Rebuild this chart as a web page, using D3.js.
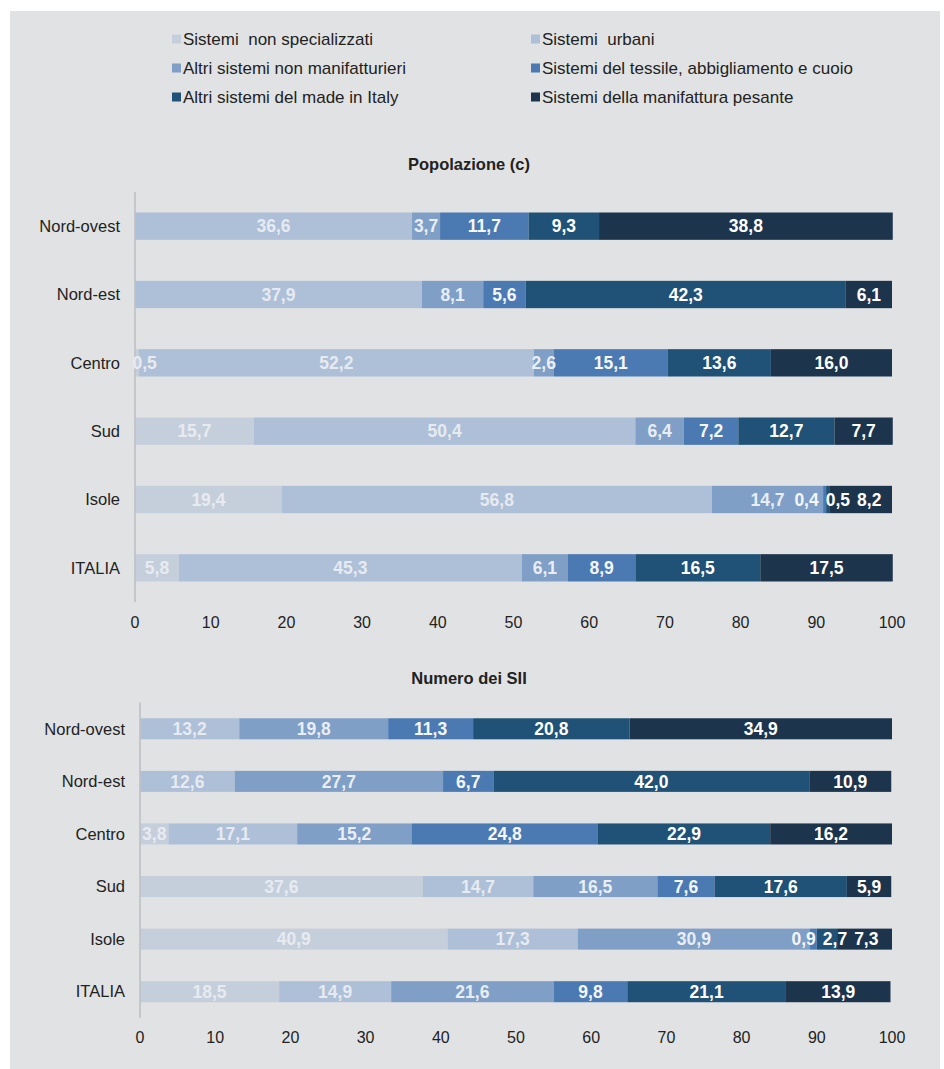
<!DOCTYPE html>
<html>
<head>
<meta charset="utf-8">
<script src="https://cdn.jsdelivr.net/npm/d3@7"></script>
<style>
  body { margin: 0; background: #fff; }
  svg { display: block; font-family: 'Liberation Sans', Arial, sans-serif; }
</style>
</head>
<body>
<svg id="chart" width="944" height="1069"></svg>
<script>
const categories = ['Nord-ovest', 'Nord-est', 'Centro', 'Sud', 'Isole', 'ITALIA'];
const seriesNames = [
  'Sistemi  non specializzati',
  'Sistemi  urbani',
  'Altri sistemi non manifatturieri',
  'Sistemi del tessile, abbigliamento e cuoio',
  'Altri sistemi del made in Italy',
  'Sistemi della manifattura pesante'
];
const colors = ['#c5cfdb', '#aec0d7', '#7f9fc6', '#4b7ab3', '#1f5276', '#1d344d'];
const labelColors = ['#e7ebf1', '#e6eaf1', '#e9eef5', '#f4f6fa', '#ffffff', '#ffffff'];
const ticks = [0, 10, 20, 30, 40, 50, 60, 70, 80, 90, 100];

// Popolazione (c)
const popNonSpecializzati = [0, 0, 0.5, 15.7, 19.4, 5.8];
const popUrbani = [36.6, 37.9, 52.2, 50.4, 56.8, 45.3];
const popAltriNonManif = [3.7, 8.1, 2.6, 6.4, 14.7, 6.1];
const popTessile = [11.7, 5.6, 15.1, 7.2, 0.4, 8.9];
const popMadeInItaly = [9.3, 42.3, 13.6, 12.7, 0.5, 16.5];
const popPesante = [38.8, 6.1, 16.0, 7.7, 8.2, 17.5];

// Numero dei SII
const siiNonSpecializzati = [0, 0, 3.8, 37.6, 40.9, 18.5];
const siiUrbani = [13.2, 12.6, 17.1, 14.7, 17.3, 14.9];
const siiAltriNonManif = [19.8, 27.7, 15.2, 16.5, 30.9, 21.6];
const siiTessile = [11.3, 6.7, 24.8, 7.6, 0.9, 9.8];
const siiMadeInItaly = [20.8, 42.0, 22.9, 17.6, 2.7, 21.1];
const siiPesante = [34.9, 10.9, 16.2, 5.9, 7.3, 13.9];

const svg = d3.select('#chart');
const fmt = v => d3.format('.1f')(v).replace('.', ',');

svg.append('rect')
  .attr('x', 10).attr('y', 11)
  .attr('width', 930).attr('height', 1058)
  .style('fill', '#e1e2e4');

// legend
const legend = svg.append('g');
seriesNames.forEach((name, i) => {
  let lx = i % 2 == 0 ? 172 : 531;
  let ly = 39 + Math.floor(i / 2) * 29;
  legend.append('rect')
    .attr('x', lx).attr('y', ly - 4.5)
    .attr('width', 9).attr('height', 9)
    .style('fill', colors[i]);
  legend.append('text')
    .attr('x', lx + 11).attr('y', ly)
    .attr('dy', '0.35em')
    .style('font-size', '17px')
    .style('fill', '#222')
    .style('white-space', 'pre')
    .text(name);
});

function buildTable(cols) {
  return categories.map((c, i) => {
    let row = {cat: c};
    cols.forEach((col, j) => row[j] = col[i]);
    return row;
  });
}

function drawChart(title, cols, opt) {
  const table = buildTable(cols);
  const stack = d3.stack().keys(d3.range(seriesNames.length))(table);

  const x = d3.scaleLinear().domain([0, 100]).range([opt.x0, 892]);
  const y = d3.scaleBand().domain(categories)
    .range([opt.yTop, opt.yBottom])
    .paddingInner(0.6).paddingOuter(0.3);

  const g = svg.append('g');

  g.append('text')
    .attr('x', 469).attr('y', opt.titleY)
    .attr('dy', '0.35em')
    .attr('text-anchor', 'middle')
    .style('font-size', '16.5px')
    .style('font-weight', 'bold')
    .style('fill', '#222')
    .text(title);

  stack.forEach((layer, k) => {
    g.append('g').selectAll('rect')
      .data(layer)
      .join('rect')
      .attr('x', d => x(d[0]))
      .attr('y', d => y(d.data.cat))
      .attr('width', d => Math.max(0, x(d[1]) - x(d[0])))
      .attr('height', y.bandwidth())
      .style('fill', colors[k]);
  });

  // axis line
  g.append('line')
    .attr('x1', opt.x0).attr('x2', opt.x0)
    .attr('y1', opt.yTop).attr('y2', opt.yBottom)
    .style('stroke', '#bfc0c3')
    .style('stroke-width', 1.6);

  // category labels
  g.selectAll('.cat')
    .data(categories)
    .join('text')
    .attr('class', 'cat')
    .attr('x', opt.catX)
    .attr('y', d => y(d) + y.bandwidth() / 2)
    .attr('dy', '0.35em')
    .attr('text-anchor', 'end')
    .style('font-size', '16.5px')
    .style('fill', '#222')
    .text(d => d);

  // tick labels
  g.selectAll('.tick')
    .data(ticks)
    .join('text')
    .attr('class', 'tick')
    .attr('x', d => x(d))
    .attr('y', opt.tickY)
    .attr('dy', '0.35em')
    .attr('text-anchor', 'middle')
    .style('font-size', '16px')
    .style('fill', '#222')
    .text(d => d);

  // value labels, pushed apart where they collide
  categories.forEach((cat, i) => {
    let labels = [];
    stack.forEach((layer, k) => {
      let d = layer[i];
      let v = cols[k][i];
      if (!v) return;
      let t = g.append('text')
        .attr('y', y(cat) + y.bandwidth() / 2)
        .attr('dy', '0.36em')
        .attr('text-anchor', 'middle')
        .style('font-size', '17.5px')
        .style('font-weight', 'bold')
        .style('fill', labelColors[k])
        .text(fmt(v));
      labels.push({t: t, c: x((d[0] + d[1]) / 2), w: t.node().getComputedTextLength() + 7});
    });
    let groups = labels.map(l => ({items: [l], c: l.c, w: l.w}));
    let merged = true;
    while (merged) {
      merged = false;
      for (let j = 0; j < groups.length - 1; j++) {
        let a = groups[j], b = groups[j + 1];
        if (a.c + a.w / 2 > b.c - b.w / 2) {
          let items = a.items.concat(b.items);
          groups.splice(j, 2, {
            items: items,
            c: d3.mean(items, it => it.c),
            w: d3.sum(items, it => it.w)
          });
          merged = true;
          break;
        }
      }
    }
    groups.forEach(gr => {
      let left = Math.max(gr.c - gr.w / 2, opt.x0 - 6);
      gr.items.forEach(it => {
        it.t.attr('x', left + it.w / 2);
        left += it.w;
      });
    });
  });
}

drawChart('Popolazione (c)',
  [popNonSpecializzati, popUrbani, popAltriNonManif, popTessile, popMadeInItaly, popPesante],
  {x0: 135, yTop: 192, yBottom: 602, titleY: 164, tickY: 622, catX: 120});

drawChart('Numero dei SII',
  [siiNonSpecializzati, siiUrbani, siiAltriNonManif, siiTessile, siiMadeInItaly, siiPesante],
  {x0: 140, yTop: 702.5, yBottom: 1018, titleY: 678, tickY: 1037, catX: 125});
</script>
</body>
</html>
